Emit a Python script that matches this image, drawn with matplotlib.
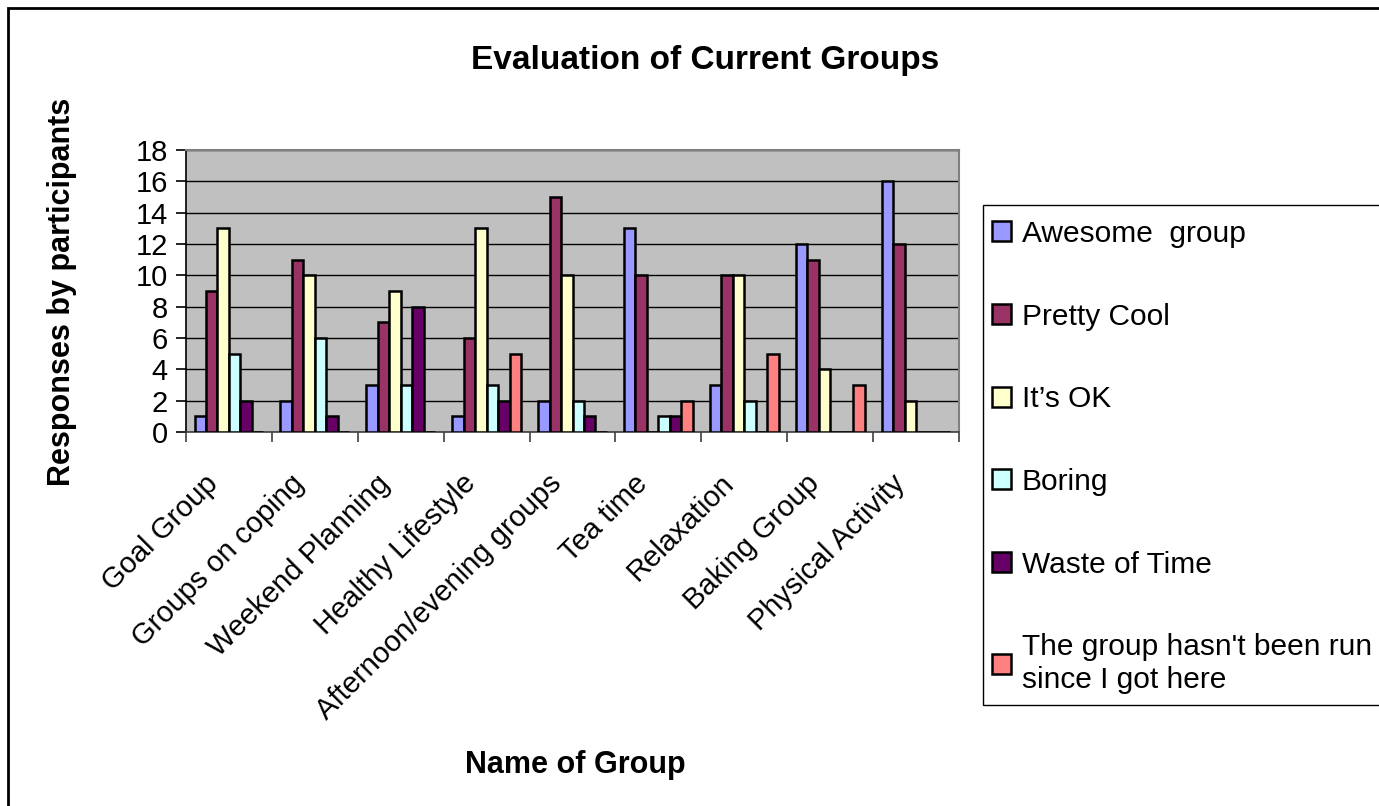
# Evaluation of current groups - grouped bar chart in old Excel style

import numpy as np
import matplotlib
matplotlib.use('Agg')
import matplotlib.pyplot as plt
import matplotlib.transforms as mtransforms
from matplotlib.patches import Rectangle


groups = ['Goal Group', 'Groups on coping', 'Weekend Planning', 'Healthy Lifestyle',
          'Afternoon/evening groups', 'Tea time', 'Relaxation', 'Baking Group',
          'Physical Activity']

awesome = [1, 2, 3, 1, 2, 13, 3, 12, 16]
pretty_cool = [9, 11, 7, 6, 15, 10, 10, 11, 12]
its_ok = [13, 10, 9, 13, 10, 0, 10, 4, 2]
boring = [5, 6, 3, 3, 2, 1, 2, 0, 0]
waste = [2, 1, 8, 2, 1, 1, 0, 0, 0]
not_run = [0, 0, 0, 5, 0, 2, 5, 3, 0]

series_names = ['Awesome  group', 'Pretty Cool', 'It\u2019s OK', 'Boring', 'Waste of Time',
                "The group hasn't been run\nsince I got here"]
colors = ['#9999FF', '#993366', '#FFFFCC', '#CCFFFF', '#660066', '#FF8080']

plt.rcParams['font.family'] = ['Liberation Sans', 'DejaVu Sans']

W, H = 1379, 806
fig = plt.figure(figsize=(W / 100, H / 100), dpi=100)
fig.patch.set_facecolor('white')

# axes box in pixel coords: x 186..959, y 150..432
ax = fig.add_axes([186 / W, 1 - 432 / H, (959 - 186) / W, (432 - 150) / H])
ax.set_facecolor('#C0C0C0')

series = [awesome, pretty_cool, its_ok, boring, waste, not_run]
x = np.arange(len(groups))
bw = 0.8 / len(series)
for i, vals in enumerate(series):
    pos = x - 0.4 + bw * (i + 0.5)
    ax.bar(pos, vals, width=bw, color=colors[i], edgecolor='black', linewidth=1.8,
           label=series_names[i], zorder=3)

ax.set_xlim(-0.5, len(groups) - 0.5)
ax.set_ylim(0, 18)
ax.set_yticks(range(0, 19, 2))
ax.yaxis.grid(True, color='black', linewidth=1.0, zorder=1)
ax.set_axisbelow(True)

# category labels at centres, tick marks at boundaries
ax.set_xticks(x)
ax.set_xticklabels(groups, rotation=45, ha='right', va='center', rotation_mode='anchor',
                   fontsize=21)
ax.set_xticks(np.arange(-0.5, len(groups)), minor=True)
ax.tick_params(axis='x', which='major', length=0, pad=34)
ax.tick_params(axis='x', which='minor', length=7, width=1.2, color='#404040')
ax.tick_params(axis='y', length=7, width=1.2, labelsize=21, pad=6)
shift = mtransforms.ScaledTranslation(-15 / 100, 0, fig.dpi_scale_trans)
for lbl in ax.get_xticklabels():
    lbl.set_transform(lbl.get_transform() + shift)

for s in ['top', 'right']:
    ax.spines[s].set_color('#808080')
    ax.spines[s].set_linewidth(1.5)
ax.spines['left'].set_color('black')
ax.spines['bottom'].set_color('#404040')
for s in ['left', 'bottom']:
    ax.spines[s].set_linewidth(1.2)

fig.text(705 / W, 1 - 61 / H, 'Evaluation of Current Groups', fontsize=24,
         fontweight='bold', ha='center', va='center')
fig.text(62 / W, 1 - 292 / H, 'Responses by participants', fontsize=22,
         fontweight='bold', rotation=90, ha='center', va='center')
fig.text(575 / W, 1 - 765 / H, 'Name of Group', fontsize=22,
         fontweight='bold', ha='center', va='center')

# legend without its own frame, box drawn separately so it runs off the right edge
leg = ax.legend(loc='upper left', bbox_to_anchor=(977 / W, 1 - 205 / H),
                bbox_transform=fig.transFigure, fontsize=21.5, frameon=False,
                borderpad=0.5, labelspacing=1.83, handlelength=0.65,
                handleheight=0.65, handletextpad=0.35, borderaxespad=0)
fig.patches.append(Rectangle((983 / W, 1 - 705 / H), 0.5, 500 / H,
                             transform=fig.transFigure, fill=False,
                             edgecolor='black', linewidth=1.0))

# outer chart border (right and bottom edges run off the picture)
fig.patches.append(Rectangle((8 / W, -0.1), 1.2, 1 - 8 / H + 0.1,
                             transform=fig.transFigure, fill=False,
                             edgecolor='black', linewidth=2.0))

fig.savefig('out.png', dpi=100)
